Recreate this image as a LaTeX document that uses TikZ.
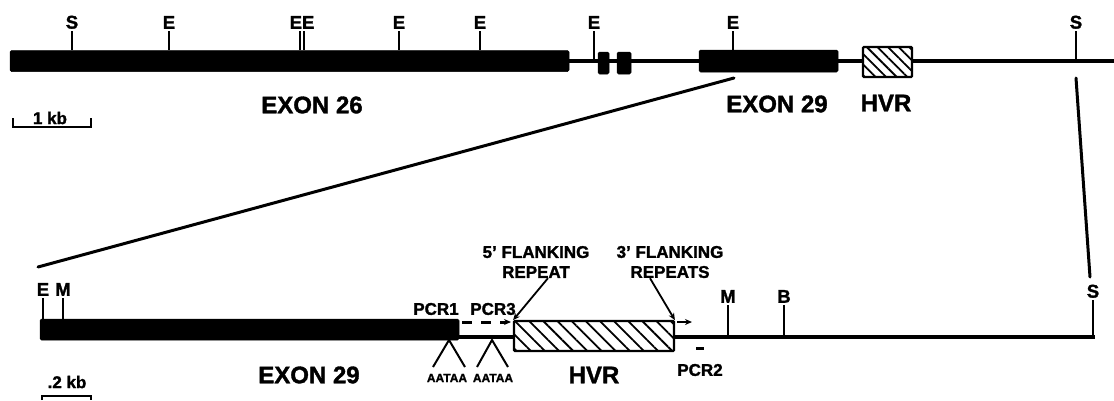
\documentclass[tikz,border=0pt]{standalone}
\usepackage{fontspec}
\setmainfont{Liberation Sans}[BoldFeatures={FakeBold=1.5}]
\usetikzlibrary{arrows.meta,patterns.meta}

\begin{document}
\begin{tikzpicture}[
  x=1pt, y=-1pt,
  exon/.style={fill=black, draw=black, line width=0.5pt, rounded corners=1.5pt, inner sep=0pt},
  hvrbox/.style={draw=black, line width=2.2pt, inner sep=0pt, rounded corners=1pt,
    preaction={fill=white}, pattern={Lines[angle=-45,distance=#1,line width=1.8pt]}},
  site/.style={anchor=south, inner sep=2pt, font=\fontsize{18.5}{18}\selectfont\bfseries},
  big/.style={inner sep=0pt, font=\fontsize{24}{24}\selectfont\bfseries},
  lbl/.style={align=center, inner sep=0pt, font=\fontsize{17}{20}\selectfont\bfseries},
  polya/.style={inner sep=0pt, font=\fontsize{12}{12}\selectfont\bfseries},
  dna/.style={line width=3.5pt},
  tick/.style={line width=2pt},
  zoomline/.style={line width=3pt, line cap=round},
  arr/.style={line width=1.8pt, -{Stealth[length=7pt,width=6pt]}}
]
  \useasboundingbox (0,0) rectangle (1114,400);

  \coordinate (startA) at (569,61);
  \coordinate (endA)   at (1114,61);
  \draw[dna] (startA) -- (endA);

  \node[exon, minimum width=559pt, minimum height=21pt] (ex26) at (289.5,61) {};
  \node[exon, minimum width=11pt,  minimum height=22pt] (ex27) at (603.5,63) {};
  \node[exon, minimum width=14pt,  minimum height=22pt] (ex28) at (624,63) {};
  \node[exon, minimum width=139pt, minimum height=22pt] (ex29) at (768.5,61) {};
  \node[hvrbox=7.5pt, minimum width=49pt, minimum height=30pt] (hvr) at (887.5,62) {};

  \foreach \n/\x/\t/\b in {
    s1/72/S/ex26, e1/169/E/ex26, e4/399/E/ex26, e5/480/E/ex26,
    e6/594/E/endA, e7/733/E/ex29, s2/1076/S/endA}{
    \node[site] (\n) at (\x,31) {\t};
    \draw[tick] (\n.south) -- (\n.south |- \b.north);
  }
  \node[site] (e2) at (302,31) {EE};
  \draw[tick] ([xshift=-2pt]e2.south) -- ([xshift=-2pt]e2.south |- ex26.north);
  \draw[tick] ([xshift=2pt]e2.south) -- ([xshift=2pt]e2.south |- ex26.north);

  \node[big] (lex26) at (312,105) {EXON 26};
  \node[big] (lex29) at (777,104) {EXON 29};
  \node[big] (lhvr)  at (886,103) {HVR};
  \node[lbl] (kb1) at (50,118) {1 kb};
  \draw[tick] (13,118) -- (13,127) -- (91,127) -- (91,118);

  \coordinate (zl1) at (734,78);
  \coordinate (zl2) at (38,267);
  \coordinate (zr1) at (1076,78);
  \coordinate (zr2) at (1090,277);
  \draw[zoomline] (zl1) -- (zl2);
  \draw[zoomline] (zr1) -- (zr2);

  \coordinate (startB) at (459,337);
  \coordinate (endB)   at (1095,337);
  \draw[dna] (startB) -- (endB);

  \node[exon, minimum width=419pt, minimum height=21pt] (bx29) at (249.5,329.5) {};
  \node[hvrbox=10pt, minimum width=160pt, minimum height=30pt] (bhvr) at (594,336) {};

  \foreach \n/\x/\t/\y/\b in {
    be/43/E/298/bx29, bm1/63/M/298/bx29,
    bm2/728/M/305/endB, bb/784/B/305/endB, bs/1093/S/300/endB}{
    \node[site] (\n) at (\x,\y) {\t};
    \draw[tick] (\n.south) -- (\n.south |- \b.north);
  }

  \node[lbl] (pcr1) at (436,309) {PCR1};
  \node[lbl] (pcr3) at (493,309) {PCR3};
  \coordinate (pa) at (462,322);
  \coordinate (pb) at (511,322);
  \draw[arr, line width=3pt, dash pattern=on 10pt off 9pt] (pa) -- (pb);

  \node[lbl] (fl5) at (536,262) {5' FLANKING\\REPEAT};
  \node[lbl] (fl3) at (670,262) {3' FLANKING\\REPEATS};
  \draw[arr] ([xshift=12pt]fl5.south) -- (bhvr.north west);
  \draw[arr] ([xshift=-20pt]fl3.south) -- (bhvr.north east);
  \coordinate (ra) at (677,322);
  \coordinate (rb) at (692,322);
  \draw[arr] (ra) -- (rb);

  \coordinate (pc2a) at (696,348);
  \coordinate (pc2b) at (704,348);
  \draw[line width=3pt] (pc2a) -- (pc2b);
  \node[lbl] (pcr2) at (700,370) {PCR2};

  \node[polya] (aat1) at (447,378) {AATAA};
  \node[polya] (aat2) at (493,378) {AATAA};
  \coordinate (v1) at (449,340);
  \coordinate (v2) at (492,340);
  \draw[tick] (v1) ++(-16,27) -- (v1) -- ++(16,27);
  \draw[tick] (v2) ++(-15,27) -- (v2) -- ++(16,27);

  \node[big] (bex29) at (309,375) {EXON 29};
  \node[big] (bhvrl) at (594,375) {HVR};
  \node[lbl] (kb2) at (67,382) {.2 kb};
  \draw[tick] (42,400) -- (42,396) -- (91,396) -- (91,400);
\end{tikzpicture}
\end{document}
